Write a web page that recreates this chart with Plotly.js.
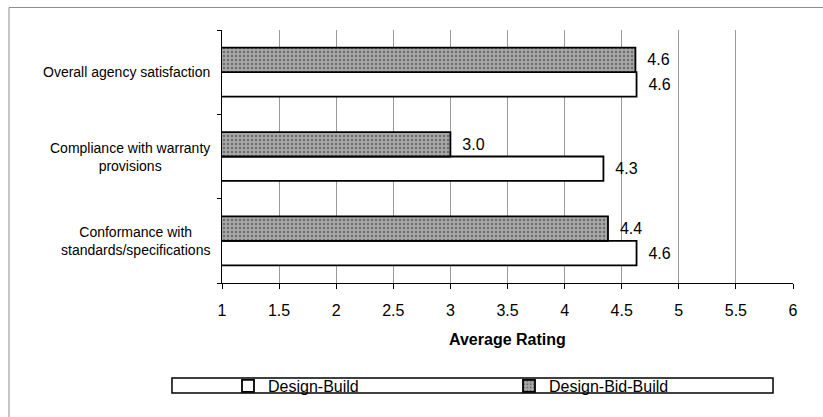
<!DOCTYPE html>
<html>
<head>
<meta charset="utf-8">
<script src="https://cdn.plot.ly/plotly-3.0.1.min.js"></script>
<style>html,body{margin:0;padding:0;background:#fff;}#chart{width:823px;height:417px;}</style>
</head>
<body>
<div id="chart"></div>
<script>
var categories = ["Overall agency satisfaction", "Compliance with warranty provisions", "Conformance with standards/specifications"];
var categoryLabels = ["Overall agency satisfaction", "Compliance with warranty<br>provisions", "Conformance with<br>standards/specifications"];
var designBuild = [4.63, 4.34, 4.63];
var designBidBuild = [4.62, 3.0, 4.38];
var tickValues = [1, 1.5, 2, 2.5, 3, 3.5, 4, 4.5, 5, 5.5, 6];
var tickText = ["1", "1.5", "2", "2.5", "3", "3.5", "4", "4.5", "5", "5.5", "6"];

var FONT = "Liberation Sans, Arial, sans-serif";
var NB = "\u00a0\u00a0";

var traces = [
  {
    type: "bar", orientation: "h", name: "Design-Build",
    y: categories, x: designBuild,
    marker: {color: "#ffffff", line: {color: "#000", width: 1.8}},
    texttemplate: NB + "%{x:.1f}", textposition: "outside", cliponaxis: false,
    textfont: {family: FONT, size: 16, color: "#000"}
  },
  {
    type: "bar", orientation: "h", name: "Design-Bid-Build",
    y: categories, x: designBidBuild,
    marker: {color: "#a0a0a0", line: {color: "#000", width: 1.8},
             pattern: {shape: ".", fgcolor: "#6e6e6e", bgcolor: "#a8a8a8", size: 4, solidity: 0.3}},
    texttemplate: NB + "%{x:.1f}", textposition: "outside", cliponaxis: false,
    textfont: {family: FONT, size: 16, color: "#000"}
  }
];

var annotations = categories.map(function (c, i) {
  return {
    xref: "paper", yref: "y", x: 0, y: c, xanchor: "right", yanchor: "middle",
    xshift: -10, text: categoryLabels[i], showarrow: false, align: "center",
    font: {family: FONT, size: 14, color: "#000"}
  };
});
annotations.push({
  xref: "paper", yref: "paper", x: 0.5, y: -0.225, xanchor: "center", yanchor: "middle",
  text: "<b>Average Rating</b>", showarrow: false, font: {family: FONT, size: 16, color: "#000"}
});

var layout = {
  width: 823, height: 417,
  margin: {l: 222, r: 30, t: 30, b: 134},
  paper_bgcolor: "#fff", plot_bgcolor: "#fff",
  font: {family: FONT, size: 14, color: "#000"},
  barmode: "group", bargap: 0.42, bargroupgap: 0,
  showlegend: true,
  legend: {
    orientation: "h", x: 0.0105, xanchor: "left", y: -0.407, yanchor: "middle",
    traceorder: "normal", entrywidth: 236, entrywidthmode: "pixels",
    font: {family: FONT, size: 16, color: "#000"}, bgcolor: "rgba(0,0,0,0)", borderwidth: 0
  },
  xaxis: {
    range: [1, 6], tickvals: tickValues, ticktext: tickText,
    showgrid: true, gridcolor: "#9a9a9a", gridwidth: 1,
    showline: true, linecolor: "#000", linewidth: 1,
    ticks: "outside", ticklen: 5, tickcolor: "#000", ticklabelstandoff: 8,
    tickfont: {family: FONT, size: 16, color: "#000"},
    zeroline: false, fixedrange: true
  },
  yaxis: {
    categoryorder: "array", categoryarray: categories.slice().reverse(),
    showticklabels: false, showline: true, linecolor: "#000", linewidth: 1,
    ticks: "outside", ticklen: 4, tickcolor: "#000", tickson: "boundaries",
    showgrid: false, zeroline: false, fixedrange: true
  },
  annotations: annotations,
  shapes: [
    {type: "rect", xref: "paper", yref: "paper", x0: -0.373, x1: 1.2, y0: -0.7, y1: 1.089,
     line: {color: "#8c8c8c", width: 1}, fillcolor: "rgba(0,0,0,0)", layer: "below"},
    {type: "rect", xref: "paper", yref: "paper", x0: -0.0876, x1: 0.965, y0: -0.435, y1: -0.375,
     line: {color: "#000", width: 1.5}, fillcolor: "rgba(0,0,0,0)", layer: "below"}
  ]
};

Plotly.newPlot("chart", traces, layout, {displayModeBar: false, staticPlot: true});
</script>
</body>
</html>
